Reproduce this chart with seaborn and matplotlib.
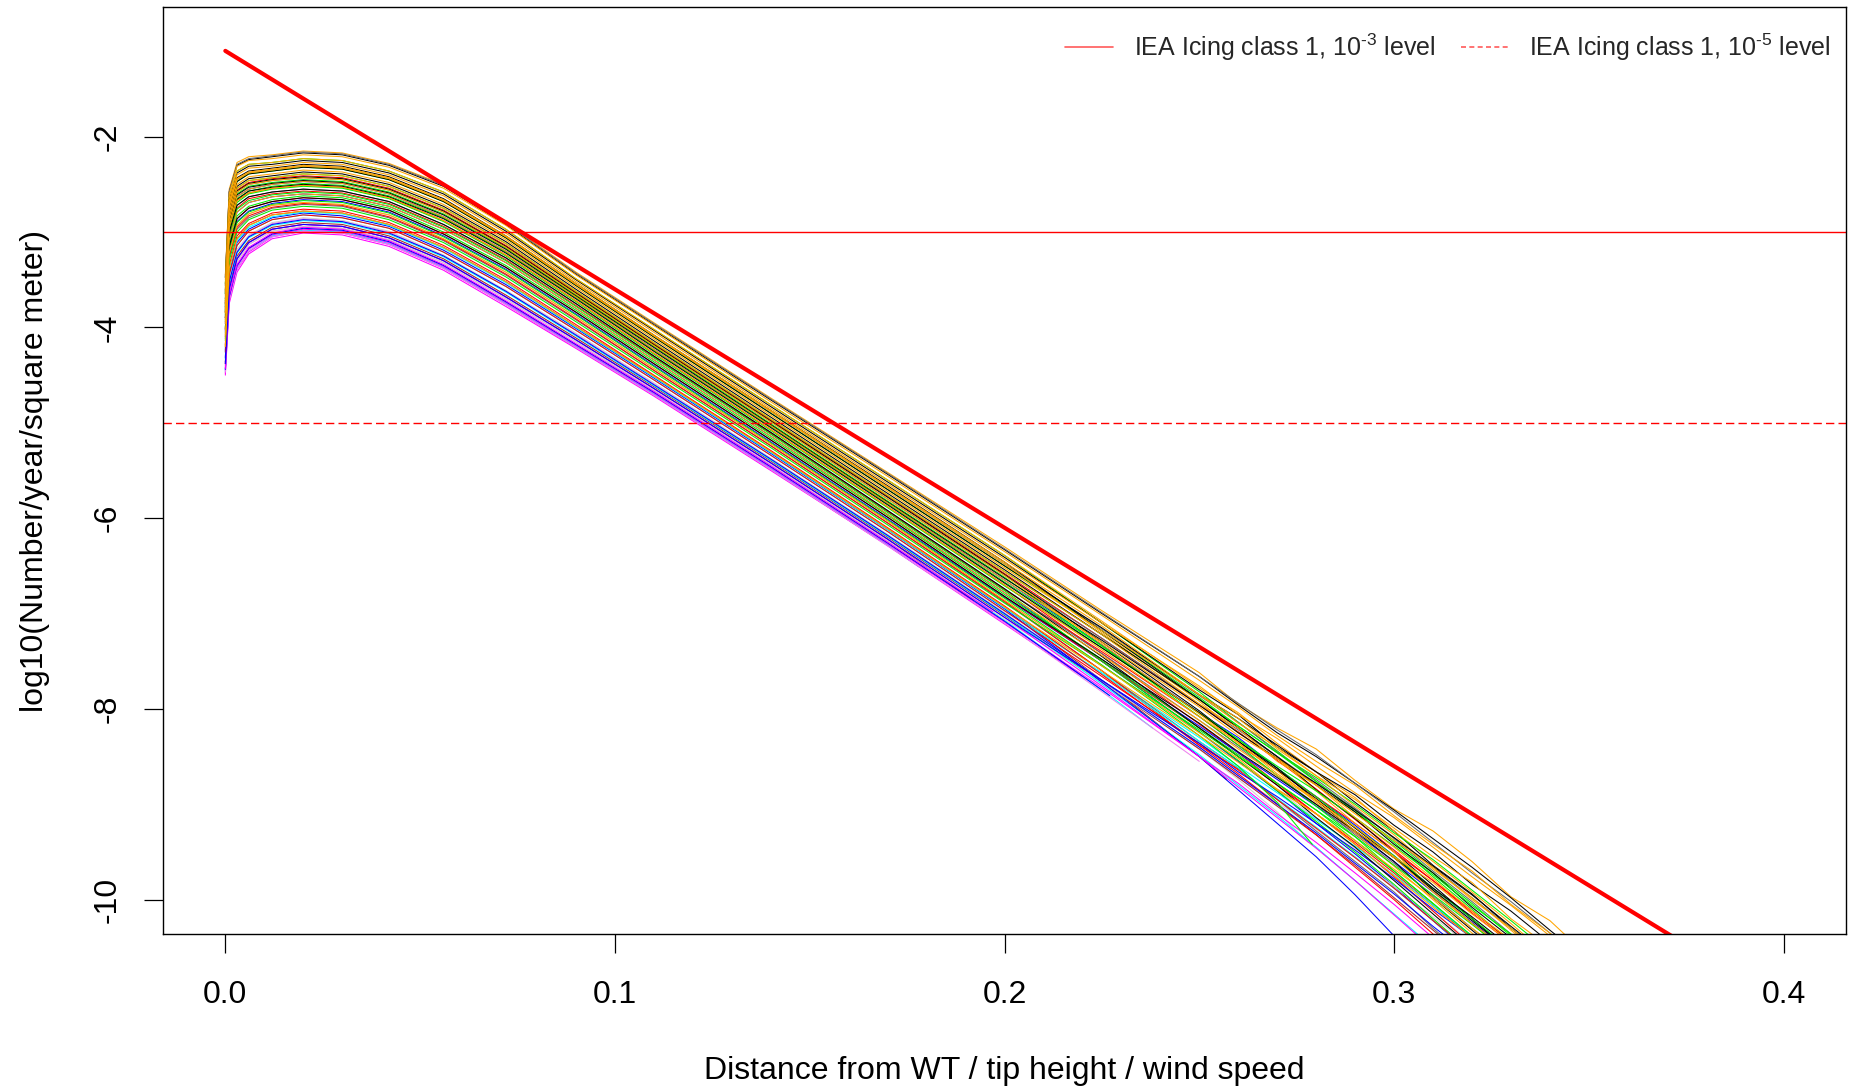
import matplotlib
matplotlib.use("Agg")
import matplotlib.pyplot as plt
import pandas as pd
import seaborn as sns
from matplotlib.lines import Line2D

# ---------------- data ----------------
# x positions at which every curve was read
KNOTS = [0.0, 0.001, 0.003, 0.006, 0.012, 0.02, 0.03, 0.042, 0.056, 0.072, 0.09, 0.11,
         0.14, 0.17, 0.2, 0.225, 0.25, 0.26, 0.27, 0.28, 0.29, 0.30, 0.31, 0.32, 0.33,
         0.34, 0.35]

ORANGE = [
    [-3.45, -2.55, -2.27, -2.21, -2.19, -2.15, -2.17, -2.28, -2.50, -2.90, -3.42, -3.95, -4.74, -5.52, -6.30,
     -6.97, -7.62, -7.95, -8.20, -8.42, -8.75, -9.05, -9.28, -9.60, -9.97, -10.22, -10.6],
    [-3.50, -2.60, -2.31, -2.25, -2.23, -2.19, -2.21, -2.32, -2.54, -2.93, -3.45, -3.98, -4.78, -5.56, -6.35,
     -7.02, -7.70, -7.98, -8.28, -8.55, -8.80, -9.12, -9.42, -9.70, -10.05, -10.35, -10.7],
    [-3.54, -2.64, -2.36, -2.29, -2.27, -2.23, -2.25, -2.36, -2.58, -2.97, -3.49, -4.02, -4.81, -5.60, -6.39,
     -7.08, -7.78, -8.04, -8.36, -8.66, -8.93, -9.28, -9.60, -9.92, -10.25, -10.6],
    [-3.58, -2.68, -2.40, -2.33, -2.31, -2.27, -2.29, -2.40, -2.62, -3.01, -3.52, -4.05, -4.85, -5.64, -6.43,
     -7.10, -7.76, -8.06, -8.31, -8.60, -8.88, -9.14, -9.45, -9.76, -10.06, -10.38, -10.7],
    [-3.63, -2.73, -2.45, -2.38, -2.35, -2.31, -2.33, -2.44, -2.67, -3.05, -3.55, -4.09, -4.88, -5.68, -6.48,
     -7.20, -7.92, -8.25, -8.52, -8.86, -9.20, -9.50, -9.90, -10.25, -10.6],
    [-3.61, -2.71, -2.44, -2.37, -2.34, -2.30, -2.32, -2.43, -2.66, -3.04, -3.54, -4.08, -4.87, -5.67, -6.46,
     -7.13, -7.85, -8.10, -8.42, -8.70, -9.02, -9.32, -9.68, -9.98, -10.32, -10.65],
    [-3.67, -2.77, -2.50, -2.42, -2.39, -2.35, -2.37, -2.48, -2.71, -3.08, -3.58, -4.12, -4.92, -5.72, -6.52,
     -7.18, -7.85, -8.15, -8.40, -8.70, -8.95, -9.25, -9.55, -9.82, -10.20, -10.5],
    [-3.72, -2.82, -2.54, -2.46, -2.43, -2.39, -2.41, -2.52, -2.75, -3.12, -3.62, -4.16, -4.96, -5.76, -6.56,
     -7.22, -7.95, -8.20, -8.55, -8.80, -9.14, -9.45, -9.78, -10.12, -10.42],
    [-3.76, -2.86, -2.58, -2.50, -2.46, -2.43, -2.45, -2.56, -2.79, -3.16, -3.65, -4.19, -4.99, -5.80, -6.60,
     -7.32, -8.05, -8.36, -8.65, -8.98, -9.30, -9.65, -10.00, -10.35, -10.7],
    [-3.81, -2.91, -2.63, -2.55, -2.50, -2.47, -2.49, -2.60, -2.84, -3.20, -3.68, -4.23, -5.03, -5.84, -6.65,
     -7.30, -7.98, -8.28, -8.52, -8.80, -9.10, -9.38, -9.66, -10.00, -10.30, -10.62],
    [-3.85, -2.95, -2.67, -2.59, -2.54, -2.51, -2.53, -2.64, -2.88, -3.24, -3.72, -4.27, -5.07, -5.88, -6.70,
     -7.38, -8.08, -8.35, -8.68, -8.95, -9.28, -9.56, -9.92, -10.25, -10.55],
    [-3.96, -3.08, -2.79, -2.69, -2.63, -2.60, -2.62, -2.73, -2.97, -3.32, -3.80, -4.34, -5.14, -5.96, -6.78,
     -7.44, -8.12, -8.42, -8.70, -8.96, -9.24, -9.55, -9.82, -10.15, -10.45],
    [-4.08, -3.22, -2.93, -2.81, -2.72, -2.69, -2.71, -2.82, -3.07, -3.42, -3.89, -4.43, -5.22, -6.03, -6.86,
     -7.55, -8.25, -8.52, -8.85, -9.10, -9.42, -9.75, -10.08, -10.4],
    [-4.20, -3.38, -3.07, -2.93, -2.82, -2.78, -2.80, -2.92, -3.16, -3.52, -3.99, -4.51, -5.30, -6.11, -6.93,
     -7.60, -8.28, -8.56, -8.84, -9.10, -9.38, -9.68, -9.98, -10.30, -10.6],
]
ORANGE_ENDS = [None] * 14

BLACK = [
    [-3.48, -2.58, -2.30, -2.24, -2.21, -2.17, -2.19, -2.30, -2.52, -2.92, -3.44, -3.97, -4.76, -5.54, -6.33,
     -7.00, -7.66, -7.96, -8.25, -8.50, -8.78, -9.06, -9.36, -9.66, -9.98, -10.32, -10.65],
    [-3.56, -2.66, -2.38, -2.31, -2.29, -2.25, -2.27, -2.38, -2.60, -2.99, -3.50, -4.03, -4.83, -5.62, -6.41,
     -7.10, -7.80, -8.06, -8.40, -8.66, -8.98, -9.28, -9.64, -9.94, -10.30, -10.62],
    [-3.61, -2.71, -2.43, -2.36, -2.33, -2.29, -2.31, -2.42, -2.65, -3.04, -3.54, -4.08, -4.87, -5.66, -6.46,
     -7.18, -7.90, -8.20, -8.50, -8.85, -9.15, -9.50, -9.85, -10.20, -10.55],
    [-3.65, -2.75, -2.47, -2.39, -2.36, -2.32, -2.34, -2.45, -2.68, -3.06, -3.56, -4.10, -4.90, -5.70, -6.50,
     -7.15, -7.85, -8.10, -8.38, -8.66, -8.90, -9.22, -9.50, -9.84, -10.12, -10.45],
    [-3.70, -2.80, -2.52, -2.44, -2.41, -2.37, -2.39, -2.50, -2.73, -3.10, -3.60, -4.14, -4.94, -5.74, -6.54,
     -7.22, -7.90, -8.20, -8.50, -8.80, -9.08, -9.42, -9.72, -10.08, -10.4],
    [-3.75, -2.85, -2.57, -2.49, -2.45, -2.42, -2.44, -2.55, -2.78, -3.15, -3.64, -4.18, -4.98, -5.78, -6.59,
     -7.30, -8.02, -8.34, -8.62, -8.96, -9.28, -9.60, -9.98, -10.32, -10.65],
    [-3.79, -2.89, -2.61, -2.53, -2.49, -2.46, -2.48, -2.59, -2.82, -3.18, -3.67, -4.21, -5.02, -5.83, -6.63,
     -7.28, -7.96, -8.25, -8.52, -8.78, -9.06, -9.35, -9.65, -9.95, -10.28, -10.6],
    [-3.84, -2.94, -2.66, -2.57, -2.53, -2.50, -2.52, -2.63, -2.86, -3.22, -3.70, -4.25, -5.05, -5.86, -6.68,
     -7.36, -8.04, -8.34, -8.64, -8.94, -9.25, -9.56, -9.90, -10.22, -10.55],
    [-3.90, -3.00, -2.72, -2.63, -2.58, -2.55, -2.57, -2.68, -2.92, -3.27, -3.75, -4.30, -5.10, -5.92, -6.74,
     -7.45, -8.20, -8.50, -8.80, -9.14, -9.45, -9.80, -10.15, -10.5],
    [-4.02, -3.15, -2.86, -2.75, -2.68, -2.64, -2.66, -2.77, -3.02, -3.37, -3.84, -4.38, -5.18, -5.99, -6.82,
     -7.48, -8.15, -8.45, -8.72, -9.00, -9.28, -9.56, -9.88, -10.18, -10.5],
]
BLACK_ENDS = [None] * 10

DARKGRAY = [
    [-3.47, -2.57, -2.29, -2.23, -2.20, -2.16, -2.18, -2.29, -2.51, -2.91, -3.43, -3.96, -4.75, -5.53, -6.32,
     -6.99, -7.66, -7.94, -8.22, -8.48, -8.78, -9.08, -9.40, -9.72, -10.02, -10.35, -10.7],
    [-3.63, -2.73, -2.45, -2.38, -2.35, -2.31, -2.33, -2.44, -2.67, -3.05, -3.55, -4.09, -4.88, -5.68, -6.48,
     -7.16, -7.86, -8.14, -8.45, -8.74, -9.04, -9.36, -9.70, -10.02, -10.36, -10.7],
    [-3.76, -2.86, -2.58, -2.50, -2.46, -2.43, -2.45, -2.56, -2.79, -3.16, -3.65, -4.19, -4.99, -5.80, -6.60,
     -7.26, -7.95, -8.22, -8.50, -8.78, -9.05, -9.35, -9.66, -9.98, -10.30, -10.6],
    [-3.90, -3.00, -2.72, -2.63, -2.58, -2.55, -2.57, -2.68, -2.92, -3.27, -3.75, -4.30, -5.10, -5.92, -6.74,
     -7.42, -8.12, -8.40, -8.70, -9.00, -9.32, -9.62, -9.96, -10.30, -10.62],
    [-4.12, -3.27, -2.97, -2.85, -2.75, -2.71, -2.73, -2.85, -3.09, -3.45, -3.92, -4.45, -5.24, -6.05, -6.88,
     -7.60, -8.34, -8.62, -8.95, -9.28, -9.60, -9.92, -10.30, -10.65],
]
DARKGRAY_ENDS = [None] * 5

GREEN = [
    [-3.54, -2.64, -2.36, -2.29, -2.27, -2.23, -2.25, -2.36, -2.58, -2.97, -3.49, -4.02, -4.81, -5.60, -6.39,
     -7.10, -7.82, -8.14, -8.44, -8.76, -9.06, -9.40, -9.76, -10.10, -10.45],
    [-3.65, -2.75, -2.47, -2.39, -2.36, -2.32, -2.34, -2.45, -2.68, -3.06, -3.56, -4.10, -4.90, -5.70, -6.50,
     -7.18, -7.88, -8.18, -8.46, -8.76, -9.08, -9.38, -9.72, -10.04, -10.38],
    [-3.72, -2.82, -2.54, -2.46, -2.43, -2.39, -2.41, -2.52, -2.75, -3.12, -3.62, -4.16, -4.96, -5.76, -6.56,
     -7.22, -7.90, -8.18, -8.46, -8.72, -9.00, -9.30, -9.58, -9.90, -10.22, -10.55],
    [-3.78, -2.88, -2.60, -2.52, -2.48, -2.45, -2.47, -2.58, -2.81, -3.17, -3.66, -4.20, -5.01, -5.82, -6.62,
     -7.34, -8.08, -8.38, -8.70, -9.02, -9.34, -9.70, -10.04, -10.4],
    [-3.83, -2.93, -2.65, -2.57, -2.52, -2.49, -2.51, -2.62, -2.85, -3.21, -3.69, -4.24, -5.04, -5.85, -6.67,
     -7.34, -8.05, -8.32, -8.62, -8.92, -9.24, -9.54, -9.88, -10.20, -10.52],
    [-3.87, -2.97, -2.69, -2.60, -2.55, -2.52, -2.54, -2.65, -2.89, -3.25, -3.73, -4.28, -5.08, -5.89, -6.71,
     -7.36, -8.04, -8.32, -8.60, -8.86, -9.14, -9.44, -9.74, -10.06, -10.36, -10.7],
    [-3.94, -3.05, -2.76, -2.67, -2.61, -2.58, -2.60, -2.71, -2.95, -3.30, -3.78, -4.32, -5.12, -5.94, -6.76,
     -7.50, -8.24, -8.54, -8.86, -9.18, -9.50, -9.84, -10.20, -10.55],
    [-4.00, -3.12, -2.83, -2.73, -2.66, -2.62, -2.64, -2.75, -3.00, -3.35, -3.82, -4.36, -5.16, -5.97, -6.80,
     -7.48, -8.20, -8.48, -8.78, -9.06, -9.38, -9.70, -10.04, -10.38],
    [-4.06, -3.20, -2.90, -2.79, -2.71, -2.67, -2.69, -2.80, -3.05, -3.40, -3.87, -4.41, -5.21, -6.02, -6.84,
     -7.54, -8.28, -8.60, -8.98],
    [-4.14, -3.30, -3.00, -2.87, -2.77, -2.73, -2.75, -2.87, -3.11, -3.47, -3.94, -4.47, -5.26, -6.07, -6.89,
     -7.55, -8.22, -8.50, -8.78, -9.06, -9.34, -9.64, -9.95, -10.26, -10.58],
]
GREEN_ENDS = [None] * 8 + [(0.279, -9.42), None]

RED = [
    [-3.74, -2.84, -2.56, -2.48, -2.44, -2.41, -2.43, -2.54, -2.77, -3.14, -3.63, -4.17, -4.97, -5.77, -6.58,
     -7.26, -7.96, -8.24, -8.54, -8.84, -9.16, -9.48, -9.80, -10.14, -10.46],
    [-3.85, -2.95, -2.67, -2.59, -2.54, -2.51, -2.53, -2.64, -2.88, -3.24, -3.72, -4.27, -5.07, -5.88, -6.70,
     -7.42, -8.16, -8.46, -8.78, -9.10, -9.42, -9.76, -10.12, -10.48],
    [-3.92, -3.03, -2.75, -2.65, -2.60, -2.57, -2.59, -2.70, -2.94, -3.29, -3.77, -4.31, -5.11, -5.93, -6.75,
     -7.40, -8.08, -8.38, -8.64, -8.92, -9.20, -9.50, -9.80, -10.12, -10.44],
    [-4.02, -3.15, -2.86, -2.75, -2.68, -2.64, -2.66, -2.77, -3.02, -3.37, -3.84, -4.38, -5.18, -5.99, -6.82,
     -7.50, -8.20, -8.50, -8.80, -9.10, -9.40, -9.72, -10.06, -10.4],
    [-4.10, -3.25, -2.95, -2.83, -2.74, -2.70, -2.72, -2.84, -3.08, -3.44, -3.91, -4.45, -5.24, -6.05, -6.87,
     -7.60, -8.38],
    [-4.18, -3.35, -3.04, -2.91, -2.80, -2.76, -2.78, -2.90, -3.14, -3.50, -3.97, -4.50, -5.29, -6.10, -6.92,
     -7.64, -8.38, -8.68, -9.00, -9.32, -9.66, -10.00, -10.36, -10.7],
    [-4.26, -3.45, -3.14, -2.99, -2.87, -2.82, -2.85, -2.96, -3.21, -3.57, -4.03, -4.55, -5.34, -6.14, -6.97,
     -7.66, -8.36, -8.64, -8.95, -9.25, -9.56, -9.88, -10.22, -10.55],
]
RED_ENDS = [None, None, None, None, (0.262, -8.68), None, None]

BLUE = [
    [-3.81, -2.91, -2.63, -2.55, -2.50, -2.47, -2.49, -2.60, -2.84, -3.20, -3.68, -4.23, -5.03, -5.84, -6.65,
     -7.33, -8.04, -8.30, -8.62, -8.92, -9.22, -9.54, -9.88, -10.20, -10.55],
    [-3.96, -3.08, -2.79, -2.69, -2.63, -2.60, -2.62, -2.73, -2.97, -3.32, -3.80, -4.34, -5.14, -5.96, -6.78,
     -7.50, -8.24, -8.55, -8.86, -9.20, -9.52, -9.86, -10.22, -10.58],
    [-4.04, -3.18, -2.89, -2.78, -2.70, -2.66, -2.68, -2.79, -3.04, -3.39, -3.86, -4.40, -5.20, -6.01, -6.83,
     -7.50, -8.18, -8.46, -8.74, -9.02, -9.30, -9.60, -9.92, -10.24, -10.56],
    [-4.44, -3.68, -3.35, -3.17, -3.02, -2.96, -2.98, -3.10, -3.35, -3.73, -4.18, -4.68, -5.46, -6.26, -7.08],
    [-4.24, -3.42, -3.11, -2.97, -2.85, -2.80, -2.83, -2.94, -3.19, -3.55, -4.01, -4.53, -5.32, -6.12, -6.95,
     -7.72, -8.50, -8.85, -9.20, -9.55, -9.95, -10.38, -10.8],
    [-4.32, -3.52, -3.21, -3.05, -2.92, -2.87, -2.89, -3.01, -3.25, -3.62, -4.08, -4.60, -5.38, -6.18, -7.00,
     -7.70, -8.40, -8.70, -9.00, -9.30, -9.62, -9.94, -10.28, -10.6],
    [-4.38, -3.60, -3.28, -3.11, -2.97, -2.92, -2.94, -3.06, -3.30, -3.68, -4.13, -4.64, -5.42, -6.22, -7.04,
     -7.70, -8.36, -8.66, -8.92, -9.20, -9.48, -9.78, -10.10, -10.4],
]
BLUE_ENDS = [None, None, None, (0.227, -7.86), None, None, None]

BROWN = [
    [-4.20, -3.38, -3.07, -2.93, -2.82, -2.78, -2.80, -2.92, -3.16, -3.52, -3.99, -4.51, -5.30, -6.11, -6.93,
     -7.70, -8.50],
    [-4.38, -3.60, -3.28, -3.11, -2.97, -2.92, -2.94, -3.06, -3.30, -3.68, -4.13, -4.64, -5.42, -6.22],
    [-4.36, -3.57, -3.25, -3.09, -2.95, -2.90, -2.92, -3.04, -3.28, -3.66, -4.11, -4.62, -5.40, -6.20, -7.02,
     -7.72, -8.42, -8.72, -9.02, -9.32, -9.64, -9.98, -10.32, -10.66],
]
BROWN_ENDS = [(0.257, -8.74), (0.192, -6.86), None]

LIGHTGRAY = [
    [-4.08, -3.22, -2.93, -2.81, -2.72, -2.69, -2.71, -2.82, -3.07, -3.42, -3.89, -4.43, -5.22, -6.03, -6.86,
     -7.54, -8.25, -8.55, -8.85, -9.15, -9.46, -9.78, -10.12, -10.46],
    [-4.30, -3.50, -3.18, -3.03, -2.90, -2.85, -2.88, -2.99, -3.24, -3.61, -4.06, -4.58, -5.37, -6.17, -6.99,
     -7.70, -8.42, -8.74, -9.08],
    [-4.40, -3.63, -3.31, -3.13, -2.99, -2.94, -2.96, -3.08, -3.32, -3.70, -4.15, -4.66, -5.44, -6.24, -7.06,
     -7.72, -8.40, -8.70, -8.98, -9.26, -9.56, -9.86, -10.18, -10.5],
]
LIGHTGRAY_ENDS = [None, (0.278, -9.40), None]

CYAN = [
    [-4.44, -3.67, -3.35, -3.17, -3.02, -2.96, -2.98, -3.10, -3.35, -3.73, -4.18, -4.68, -5.46, -6.26, -7.07,
     -7.80],
    [-4.46, -3.71, -3.38, -3.20, -3.04, -2.98, -3.00, -3.12, -3.37, -3.75, -4.20, -4.70, -5.48, -6.28],
    [-4.33, -3.54, -3.22, -3.06, -2.93, -2.88, -2.90, -3.02, -3.26, -3.63, -4.09, -4.61, -5.39, -6.19, -7.01,
     -7.74, -8.48, -8.80, -9.12, -9.45, -9.80, -10.15, -10.5],
    [-4.26, -3.45, -3.14, -2.99, -2.87, -2.82, -2.85, -2.96, -3.21, -3.57, -4.03, -4.55, -5.34, -6.14, -6.97,
     -7.62, -8.30, -8.60, -8.88, -9.16, -9.44, -9.74, -10.06, -10.38],
    [-4.22, -3.40, -3.09, -2.95, -2.84, -2.79, -2.81, -2.93, -3.17, -3.53, -4.00, -4.52, -5.31, -6.12, -6.94,
     -7.63, -8.34, -8.62, -8.94, -9.24, -9.55, -9.88, -10.22, -10.56],
]
CYAN_ENDS = [(0.238, -8.20), (0.178, -6.51), None, None, None]

MAGENTA = [
    [-4.50, -3.75, -3.42, -3.23, -3.07, -3.01, -3.03, -3.15, -3.40, -3.78, -4.22, -4.72, -5.50],
    [-4.48, -3.72, -3.39, -3.21, -3.05, -2.99, -3.01, -3.13, -3.38, -3.76, -4.21, -4.71, -5.49, -6.29, -7.11],
    [-4.45, -3.69, -3.36, -3.18, -3.03, -2.97, -2.99, -3.11, -3.36, -3.74, -4.19, -4.69, -5.47, -6.27, -7.09,
     -7.78, -8.50, -8.78, -9.10, -9.40, -9.72, -10.05, -10.4],
    [-4.43, -3.66, -3.34, -3.16, -3.01, -2.95, -2.97, -3.09, -3.34, -3.72, -4.17, -4.67, -5.45, -6.25],
    [-4.38, -3.60, -3.28, -3.11, -2.97, -2.92, -2.94, -3.06, -3.30, -3.68, -4.13, -4.64, -5.42, -6.22, -7.04,
     -7.76, -8.50, -8.82, -9.14, -9.46, -9.80, -10.16, -10.52],
]
MAGENTA_ENDS = [(0.166, -6.18), (0.220, -7.66), None, (0.197, -6.98), None]

VIOLET = [
    [-4.31, -3.51, -3.20, -3.04, -2.91, -2.86, -2.88, -3.00, -3.25, -3.62, -4.07, -4.59, -5.38, -6.18, -7.00,
     -7.70, -8.42, -8.72, -9.00],
    [-4.40, -3.63, -3.31, -3.13, -2.99, -2.94, -2.96, -3.08, -3.32, -3.70, -4.15, -4.66, -5.44, -6.24],
    [-4.47, -3.72, -3.39, -3.20, -3.05, -2.99, -3.01, -3.13, -3.38, -3.76, -4.21, -4.71, -5.49, -6.29, -7.10,
     -7.82, -8.55],
]
VIOLET_ENDS = [None, (0.180, -6.55), None]

# IEA reference line and levels
IEA_X = [0.0, 0.4]
IEA_Y = [-1.1, -11.1]
LEVEL_1E3 = -3
LEVEL_1E5 = -5

X_TICKS = [0.0, 0.1, 0.2, 0.3, 0.4]
Y_TICKS = [-2, -4, -6, -8, -10]
LEGEND_LABELS = ["IEA Icing class 1, 10$^{\u2010 3}$ level", "IEA Icing class 1, 10$^{\u2010 5}$ level"]
X_LABEL = "Distance from WT / tip height / wind speed"
Y_LABEL = "log10(Number/year/square meter)"

# ---------------- build long data ----------------
GROUPS = [
    ("orange", "#FFA500", ORANGE, ORANGE_ENDS),
    ("black", "#000000", BLACK, BLACK_ENDS),
    ("darkgray", "#6A6A6A", DARKGRAY, DARKGRAY_ENDS),
    ("green", "#00EE00", GREEN, GREEN_ENDS),
    ("red", "#FF0000", RED, RED_ENDS),
    ("blue", "#0000FF", BLUE, BLUE_ENDS),
    ("brown", "#A52A2A", BROWN, BROWN_ENDS),
    ("lightgray", "#CFCFCF", LIGHTGRAY, LIGHTGRAY_ENDS),
    ("cyan", "#00FFFF", CYAN, CYAN_ENDS),
    ("magenta", "#FF00FF", MAGENTA, MAGENTA_ENDS),
    ("violet", "#EE82EE", VIOLET, VIOLET_ENDS),
]

rows = []
palette = {}
max_n = max(len(g[2]) for g in GROUPS)
for i in range(max_n):
    for name, col, curves, ends in GROUPS:
        if i >= len(curves):
            continue
        ys = list(curves[i])
        xs = list(KNOTS[:len(ys)])
        if ends[i] is not None:
            xs.append(ends[i][0])
            ys.append(ends[i][1])
        key = f"{name}_{i}"
        palette[key] = col
        for k, (x, y) in enumerate(zip(xs, ys)):
            rows.append((key, k, x, y))
df = pd.DataFrame(rows, columns=["curve", "order", "x", "y"])

# ---------------- plot ----------------
sns.set_theme(style="white")
plt.rcParams["font.family"] = ["Liberation Sans", "DejaVu Sans"]
plt.rcParams["mathtext.fontset"] = "custom"
plt.rcParams["mathtext.rm"] = "Liberation Sans"
plt.rcParams["mathtext.it"] = "Liberation Sans"
plt.rcParams["mathtext.fallback"] = "stixsans"
plt.rcParams["axes.unicode_minus"] = False

fig = plt.figure(figsize=(18.5, 10.91), dpi=100)
ax = fig.add_axes([163 / 1850, 1 - 934 / 1091, (1846 - 163) / 1850, (934 - 7) / 1091])

sns.lineplot(data=df, x="x", y="y", hue="curve", palette=palette,
             estimator=None, sort=False, legend=False, linewidth=0.75, ax=ax)

ax.axhline(LEVEL_1E3, color="red", lw=1.0)
ax.axhline(LEVEL_1E5, color="red", lw=1.0, ls=(0, (6, 3)))
sns.lineplot(x=IEA_X, y=IEA_Y, color="red", linewidth=3.0, ax=ax, sort=False,
             estimator=None)

ax.set_xlim(-0.016, 0.416)
ax.set_ylim(-10.36, -0.64)
ax.set_xticks(X_TICKS)
ax.set_xticklabels([f"{v:.1f}" for v in X_TICKS])
ax.set_yticks(Y_TICKS)
ax.set_yticklabels([str(v) for v in Y_TICKS])
plt.setp(ax.get_yticklabels(), rotation=90, va="center")
ax.tick_params(axis="both", which="both", bottom=True, left=True, direction="out",
               length=14, width=0.9, color="black", labelsize=23, labelcolor="black")
ax.tick_params(axis="x", pad=19)
ax.tick_params(axis="y", pad=15)
for sp in ax.spines.values():
    sp.set_color("black")
    sp.set_linewidth(1.0)
    sp.set_visible(True)

ax.set_xlabel(X_LABEL, fontsize=23, color="black", labelpad=33)
ax.set_ylabel(Y_LABEL, fontsize=23, color="black", labelpad=31)

handles = [Line2D([], [], color="#FF5A5A", lw=1.2),
           Line2D([], [], color="#FF5A5A", lw=1.2, ls=(0, (3, 2)))]
ax.legend(handles, LEGEND_LABELS, loc="upper right", bbox_to_anchor=(1.0, 0.99),
          borderaxespad=0.2, ncol=2, frameon=False, fontsize=18, handlelength=1.9,
          handletextpad=0.85, columnspacing=1.0)

fig.savefig("out.png", dpi=100)
